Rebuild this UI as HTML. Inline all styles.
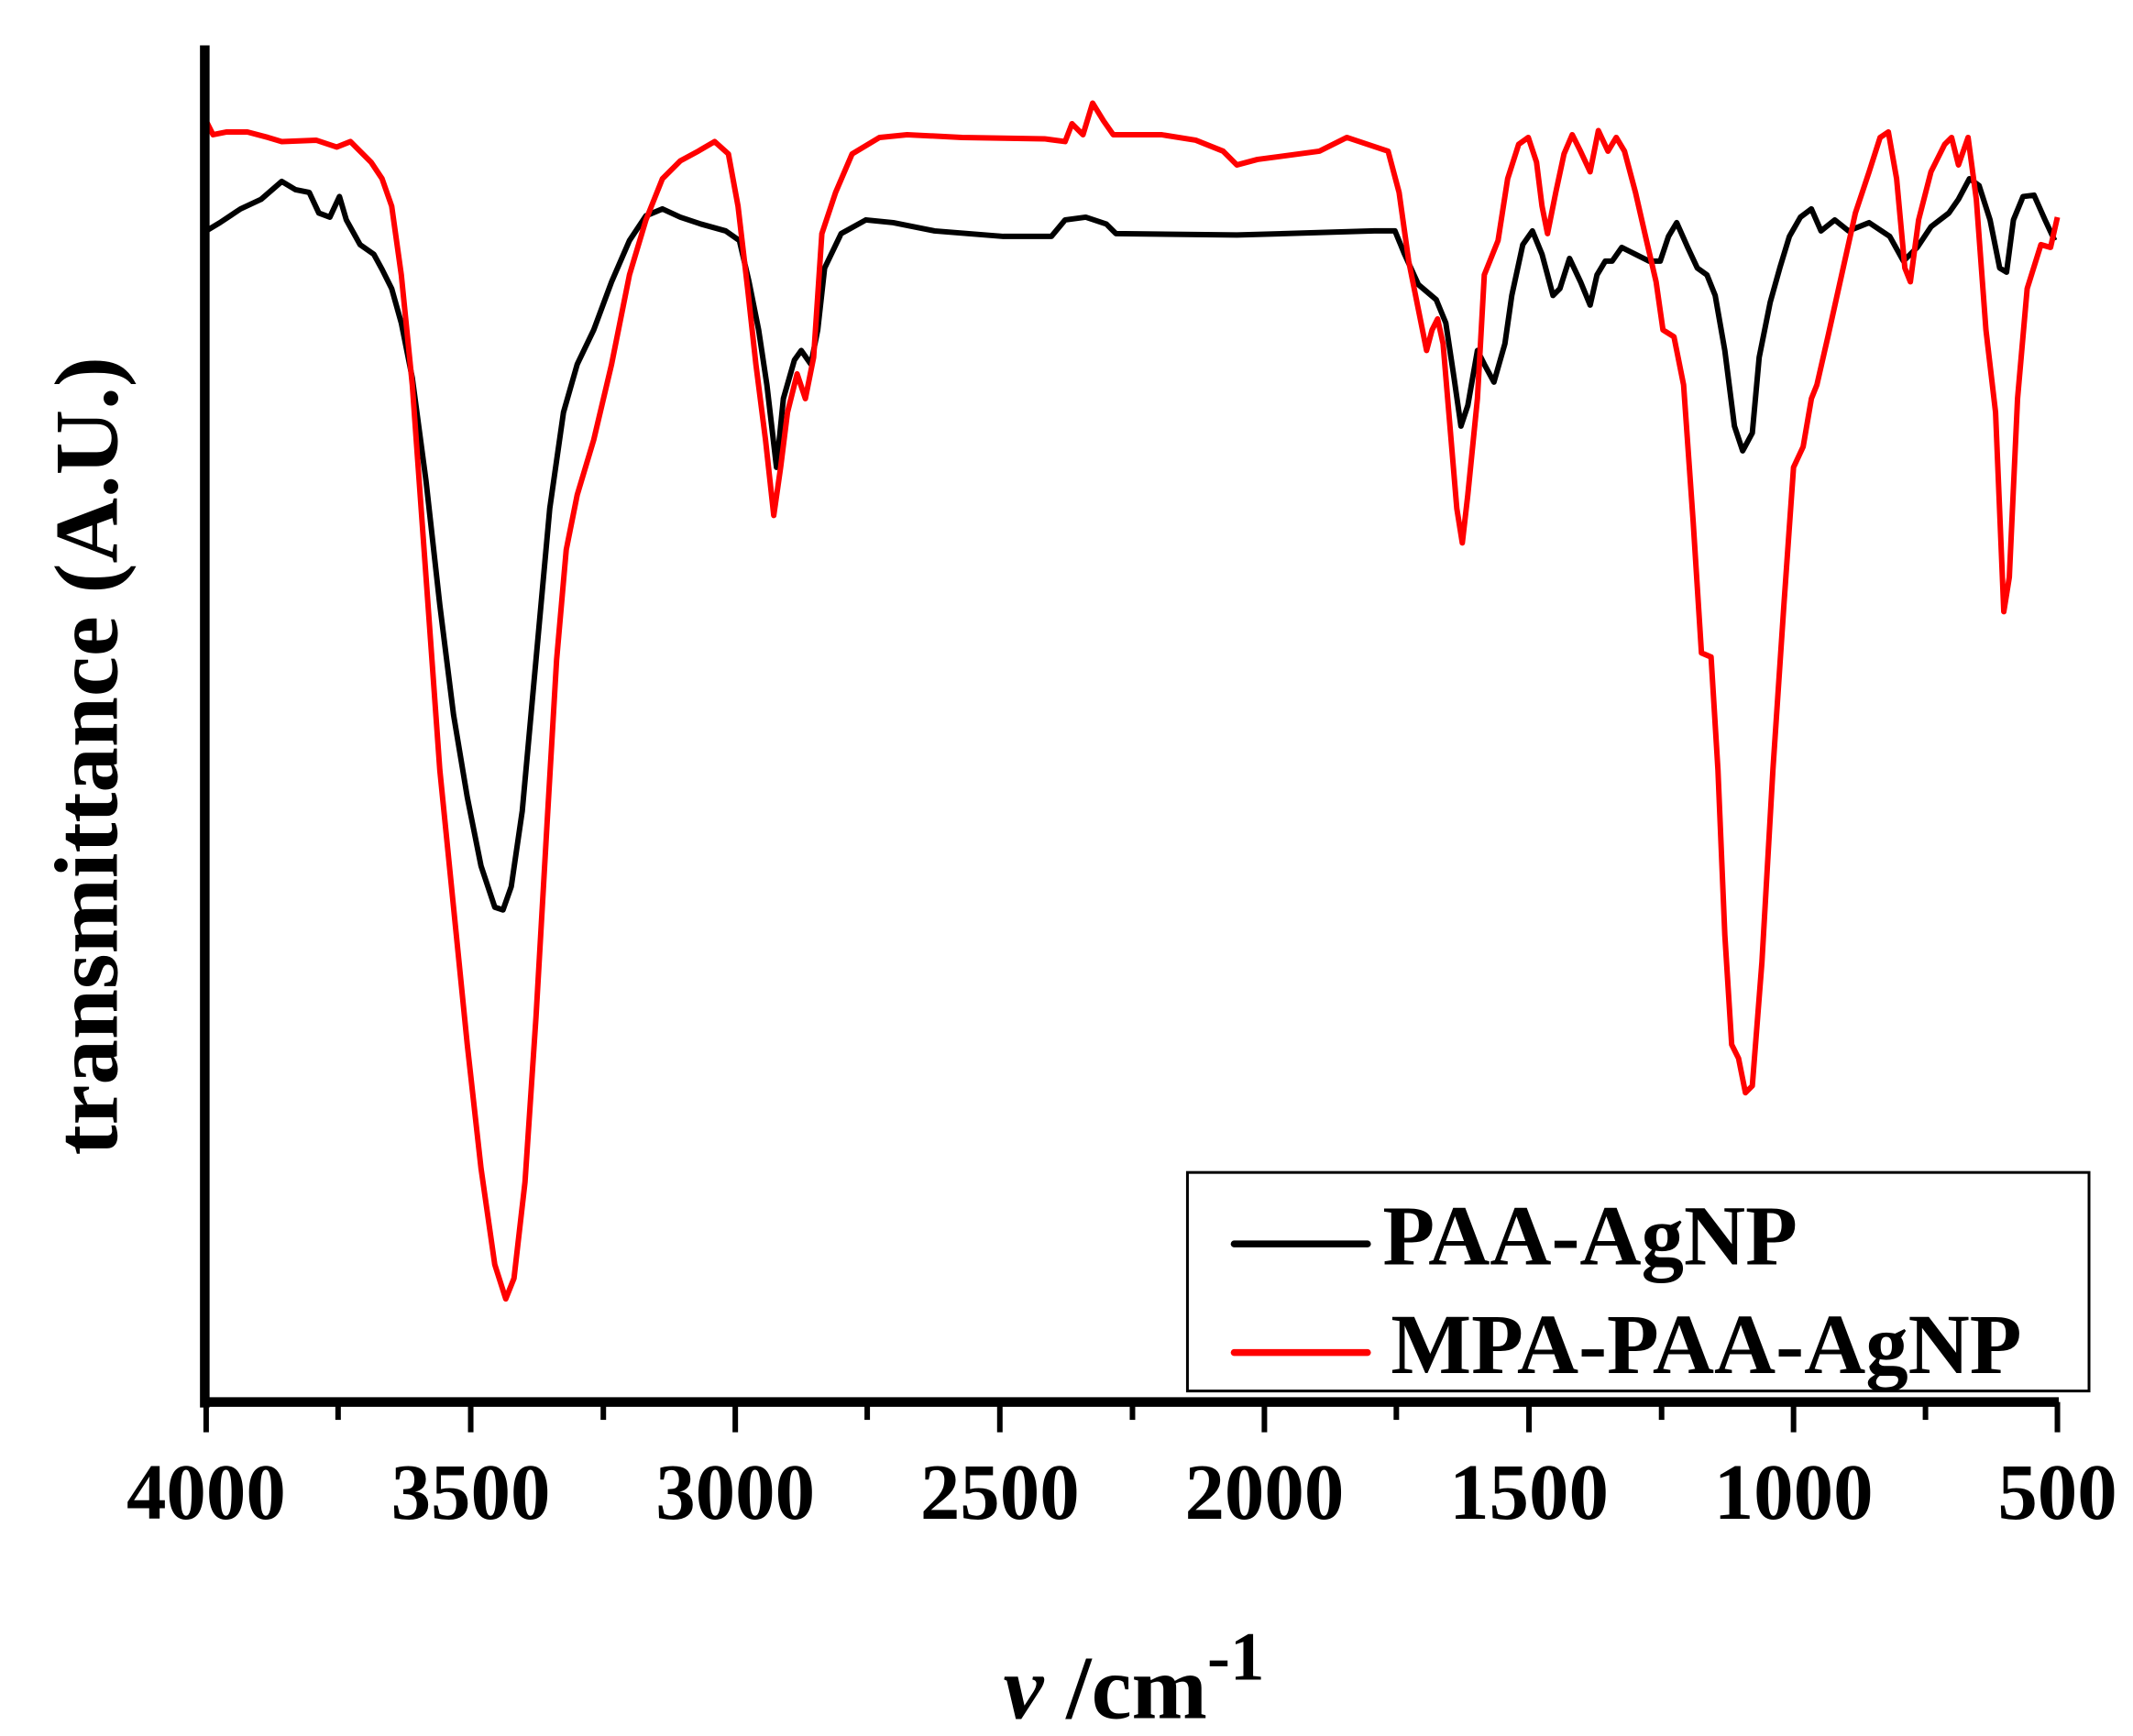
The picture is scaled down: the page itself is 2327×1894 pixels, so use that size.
<!DOCTYPE html>
<html><head><meta charset="utf-8"><style>
html,body{margin:0;padding:0;background:#fff;}
svg{display:block;}
text{font-family:"Liberation Serif",serif;font-weight:bold;fill:#000;}
</style></head><body>
<svg width="2327" height="1894" viewBox="0 0 1552 1263" preserveAspectRatio="none" xmlns="http://www.w3.org/2000/svg">
<rect width="1552" height="1263" fill="#fff"/>
<!-- curves -->
<polyline fill="none" stroke="#000" stroke-width="4" stroke-linejoin="round" points="150,168 160,162 175,152 190,145 205,132 215,138 225,140 232,155 240,158 247,143 252,160 262,178 272,185 278,196 285,210 292,235 300,275 310,350 320,440 330,520 340,580 350,630 360,660 366,662 372,645 380,590 390,480 400,370 410,300 420,265 432,240 445,205 458,175 470,157 482,152 495,158 510,163 528,168 538,175 545,205 552,240 558,280 565,340 570,290 578,262 583,255 590,265 595,240 600,195 612,170 630,160 650,162 680,168 730,172 765,172 775,160 790,158 805,163 812,170 900,171 1000,168 1015,168 1022,185 1032,207 1045,218 1052,235 1058,275 1063,310 1068,295 1075,255 1080,265 1087,278 1095,250 1100,215 1108,178 1115,168 1122,185 1130,215 1135,210 1142,188 1150,205 1157,222 1162,200 1168,190 1173,190 1180,180 1190,185 1200,190 1208,190 1214,172 1220,162 1228,180 1235,195 1242,200 1248,215 1255,255 1262,310 1268,328 1275,315 1280,260 1288,220 1295,195 1302,172 1310,158 1318,152 1325,168 1335,160 1345,168 1360,162 1375,172 1385,190 1395,180 1405,165 1418,155 1425,145 1433,130 1440,135 1448,160 1455,195 1460,198 1465,160 1472,143 1480,142 1488,160 1495,175"/>
<polyline fill="none" stroke="#f00" stroke-width="4" stroke-linejoin="round" points="150,88 155,98 165,96 180,96 195,100 205,103 230,102 245,107 255,103 262,110 270,118 278,130 285,150 292,200 300,280 310,420 320,560 330,660 340,760 350,850 360,920 368,945 374,930 382,860 390,740 398,600 405,480 412,400 420,360 432,320 445,265 458,200 470,160 482,130 495,117 508,110 520,103 530,112 537,150 544,210 550,265 557,320 563,375 568,340 573,300 580,272 586,290 592,260 598,170 608,140 620,112 640,100 660,98 700,100 760,101 775,103 780,90 788,98 795,75 803,88 810,98 820,98 845,98 870,102 890,110 900,120 915,116 960,110 980,100 995,105 1010,110 1018,140 1025,190 1032,225 1038,255 1042,240 1046,232 1050,250 1055,310 1060,370 1064,395 1068,360 1075,290 1080,200 1090,175 1097,130 1105,105 1112,100 1118,118 1122,150 1126,170 1132,140 1138,112 1144,98 1150,110 1157,125 1163,95 1170,110 1176,100 1182,110 1190,140 1198,175 1205,205 1210,240 1218,245 1225,280 1232,380 1238,475 1245,478 1250,560 1255,680 1260,760 1265,770 1270,795 1275,790 1282,700 1290,560 1298,440 1305,340 1312,325 1318,290 1322,280 1330,245 1340,200 1350,155 1360,125 1368,100 1374,96 1380,130 1386,195 1390,205 1396,160 1405,125 1415,105 1420,100 1425,120 1432,100 1438,145 1445,240 1452,300 1458,445 1462,420 1468,290 1475,210 1485,178 1492,180 1497,158"/>
<!-- axes -->
<line x1="149" y1="33" x2="149" y2="1024" stroke="#000" stroke-width="7"/>
<line x1="146" y1="1020" x2="1498" y2="1020" stroke="#000" stroke-width="7"/>
<g stroke="#000" stroke-width="4">
<line x1="150" y1="1020" x2="150" y2="1042"/><line x1="342.5" y1="1020" x2="342.5" y2="1042"/><line x1="535" y1="1020" x2="535" y2="1042"/><line x1="727.5" y1="1020" x2="727.5" y2="1042"/><line x1="920" y1="1020" x2="920" y2="1042"/><line x1="1112.5" y1="1020" x2="1112.5" y2="1042"/><line x1="1305" y1="1020" x2="1305" y2="1042"/><line x1="1497" y1="1020" x2="1497" y2="1042"/>
<line x1="246" y1="1020" x2="246" y2="1033"/><line x1="439" y1="1020" x2="439" y2="1033"/><line x1="631" y1="1020" x2="631" y2="1033"/><line x1="824" y1="1020" x2="824" y2="1033"/><line x1="1016" y1="1020" x2="1016" y2="1033"/><line x1="1209" y1="1020" x2="1209" y2="1033"/><line x1="1401" y1="1020" x2="1401" y2="1033"/>
</g>
<g font-size="58" text-anchor="middle">
<text x="150" y="1105">4000</text><text x="342.5" y="1105">3500</text><text x="535" y="1105">3000</text><text x="727.5" y="1105">2500</text><text x="920" y="1105">2000</text><text x="1112.5" y="1105">1500</text><text x="1305" y="1105">1000</text><text x="1497" y="1105">500</text>
</g>
<text transform="translate(85,550) rotate(-90)" font-size="66" text-anchor="middle">transmittance (A.U.)</text>
<text x="825" y="1250" font-size="66" text-anchor="middle"><tspan font-style="italic">ν</tspan> /cm<tspan font-size="50" dy="-28">-1</tspan></text>
<!-- legend -->
<rect x="864" y="853" width="656" height="159" fill="#fff" stroke="#000" stroke-width="2"/>
<line x1="898" y1="905" x2="995" y2="905" stroke="#000" stroke-width="5" stroke-linecap="round"/>
<line x1="898" y1="984" x2="995" y2="984" stroke="#f00" stroke-width="5" stroke-linecap="round"/>
<text x="1006" y="920" font-size="62">PAA-AgNP</text>
<text x="1012" y="999" font-size="62">MPA-PAA-AgNP</text>
</svg>
</body></html>
